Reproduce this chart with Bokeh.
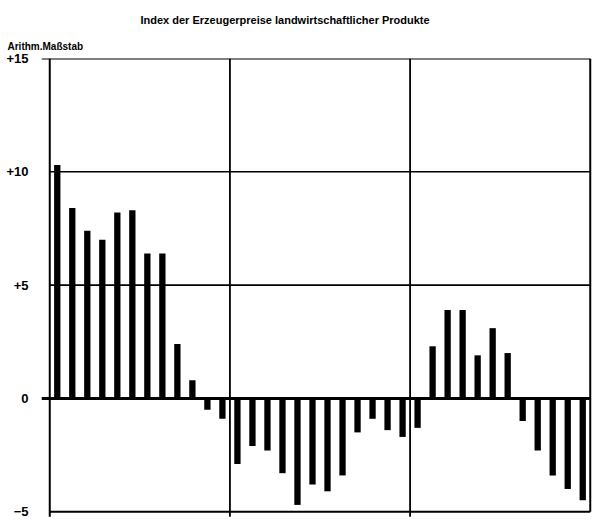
from bokeh.plotting import figure
from bokeh.models import Range1d, FixedTicker, Title
from bokeh.embed import file_html
from bokeh.resources import INLINE

# Data: monthly change rates (%) over three years (12 bars each)
year1 = [10.3, 8.4, 7.4, 7.0, 8.2, 8.3, 6.4, 6.4, 2.4, 0.8, -0.5, -0.9]
year2 = [-2.9, -2.1, -2.3, -3.3, -4.7, -3.8, -4.1, -3.4, -1.5, -0.9, -1.4, -1.7]
year3 = [-1.3, 2.3, 3.9, 3.9, 1.9, 3.1, 2.0, -1.0, -2.3, -3.4, -4.0, -4.5]
values = year1 + year2 + year3
months = [i + 0.5 for i in range(len(values))]

y_ticks = [-5, 0, 5, 10, 15]
y_tick_labels = ["\u22125", "0", "+5", "+10", "+15"]
year_bounds = [12, 24]
h_grid = [5, 10]

title_text = "Index der Erzeugerpreise landwirtschaftlicher Produkte"
scale_text = "Arithm.Maßstab"

FONT = "Liberation Sans"

p = figure(width=598, height=519, output_backend="svg", toolbar_location=None,
           x_range=Range1d(-0.55, 36.15), y_range=Range1d(-5.3, 15))
p.min_border_left = 41
p.min_border_right = 6
p.min_border_top = 58
p.min_border_bottom = 1
p.outline_line_color = None
p.xgrid.visible = False
p.ygrid.visible = False
p.xaxis.visible = False
p.background_fill_color = "white"
p.border_fill_color = "white"

ax = p.yaxis[0]
ax.ticker = FixedTicker(ticks=y_ticks)
ax.major_label_overrides = {t: l for t, l in zip(y_ticks, y_tick_labels)}
ax.axis_line_color = None
ax.major_tick_line_color = None
ax.major_tick_out = 0
ax.major_tick_in = 0
ax.minor_tick_line_color = None
ax.minor_tick_out = 0
ax.major_label_standoff = 13
ax.major_label_text_font = FONT
ax.major_label_text_font_style = "bold"
ax.major_label_text_font_size = "13px"
ax.major_label_text_color = "black"

x0, x1 = 0, len(values)
ytop, ybot = y_ticks[-1], y_ticks[0]

# horizontal grid lines
p.segment(x0=[x0] * len(h_grid), y0=h_grid, x1=[x1] * len(h_grid), y1=h_grid,
          line_color="black", line_width=1.6)
# vertical year boundaries
p.segment(x0=year_bounds, y0=[ybot - 0.22] * len(year_bounds), x1=year_bounds,
          y1=[ytop] * len(year_bounds), line_color="black", line_width=1.8)
# frame
p.segment(x0=[x0, x1, -0.55, x0], y0=[ybot - 0.22, ybot, ytop, ybot],
          x1=[x0, x1, x1, x1], y1=[ytop, ytop, ytop, ybot],
          line_color="black", line_width=2)

# bars
p.vbar(x=months, top=values, bottom=0, width=0.42, fill_color="black", line_color=None)

# zero line
p.segment(x0=[-0.55], y0=[0], x1=[x1], y1=[0], line_color="black", line_width=3)

# texts above the frame (first added sits closest to the frame)
p.add_layout(Title(text=scale_text, align="left", offset=-34, standoff=13,
                   text_font=FONT, text_font_style="bold", text_font_size="10px",
                   text_color="black"), "above")
p.add_layout(Title(text=title_text, align="left", offset=99, standoff=13,
                   text_font=FONT, text_font_style="bold", text_font_size="11px",
                   text_color="black"), "above")

open("out.html", "w").write(file_html(p, INLINE))
